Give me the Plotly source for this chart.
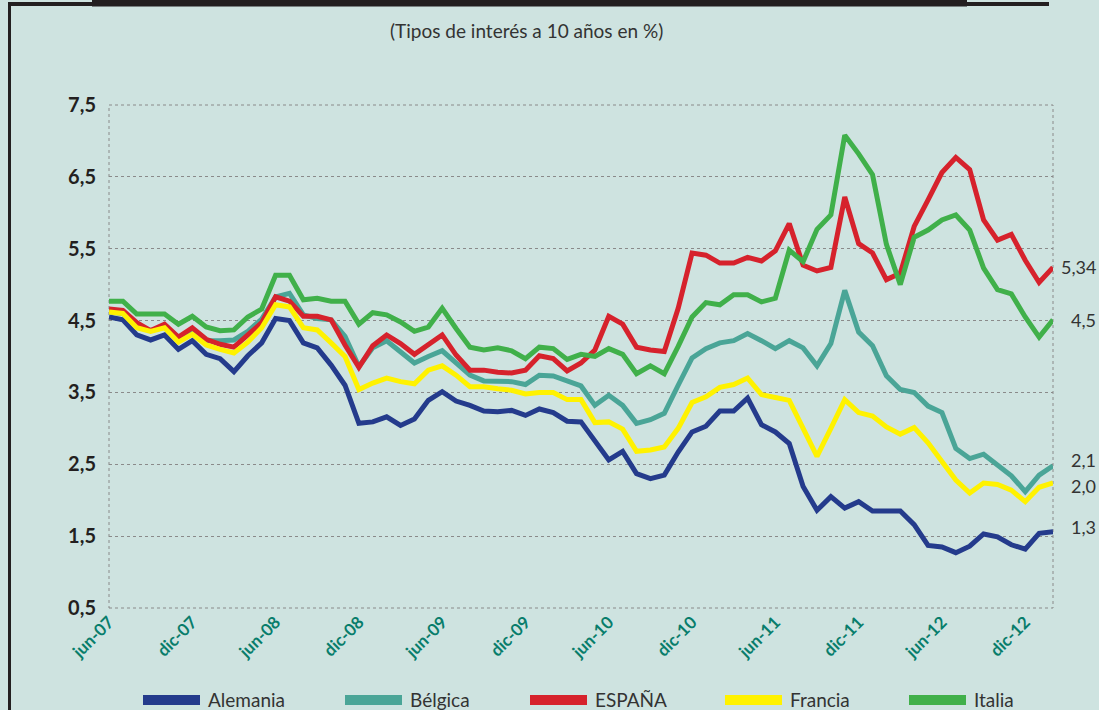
import plotly.graph_objects as go

# ---------------- data ----------------
mes = ["ene", "feb", "mar", "abr", "may", "jun", "jul", "ago", "sep", "oct", "nov", "dic"]
months = []
_y, _m = 2007, 5
for _ in range(69):
    months.append(f"{mes[_m]}-{str(_y)[2:]}")
    _m += 1
    if _m == 12:
        _m = 0
        _y += 1

alemania = [4.55, 4.51, 4.30, 4.23, 4.30, 4.10, 4.22, 4.03, 3.97, 3.79,
            4.01, 4.19, 4.53, 4.50, 4.19, 4.12, 3.88, 3.60, 3.07, 3.09,
            3.16, 3.04, 3.13, 3.39, 3.51, 3.38, 3.32, 3.24, 3.23, 3.25,
            3.18, 3.27, 3.22, 3.10, 3.09, 2.81, 2.56, 2.68, 2.37, 2.30,
            2.35, 2.67, 2.95, 3.03, 3.24, 3.24, 3.42, 3.05, 2.95, 2.79,
            2.19, 1.86, 2.05, 1.89, 1.98, 1.85, 1.85, 1.85, 1.66, 1.37,
            1.35, 1.27, 1.36, 1.53, 1.49, 1.38, 1.32, 1.54, 1.56]

belgica = [4.62, 4.60, 4.42, 4.36, 4.42, 4.25, 4.37, 4.22, 4.22, 4.23,
           4.35, 4.52, 4.83, 4.88, 4.58, 4.53, 4.51, 4.28, 3.86, 4.12,
           4.22, 4.06, 3.91, 4.00, 4.08, 3.91, 3.74, 3.66, 3.66, 3.65,
           3.61, 3.74, 3.73, 3.66, 3.59, 3.32, 3.46, 3.32, 3.07, 3.12,
           3.21, 3.60, 3.98, 4.11, 4.19, 4.22, 4.32, 4.22, 4.11, 4.22,
           4.12, 3.87, 4.18, 4.92, 4.34, 4.15, 3.73, 3.54, 3.50, 3.31,
           3.22, 2.72, 2.58, 2.64, 2.48, 2.34, 2.12, 2.35, 2.48]

espana = [4.66, 4.64, 4.47, 4.36, 4.45, 4.27, 4.40, 4.24, 4.17, 4.13,
          4.30, 4.47, 4.83, 4.77, 4.56, 4.56, 4.51, 4.16, 3.85, 4.15,
          4.30, 4.18, 4.03, 4.17, 4.30, 4.02, 3.81, 3.81, 3.78, 3.77,
          3.81, 4.01, 3.97, 3.80, 3.91, 4.09, 4.56, 4.45, 4.13, 4.09,
          4.07, 4.67, 5.44, 5.41, 5.30, 5.30, 5.38, 5.33, 5.47, 5.85,
          5.27, 5.19, 5.24, 6.22, 5.57, 5.44, 5.07, 5.16, 5.81, 6.18,
          6.56, 6.77, 6.60, 5.90, 5.62, 5.70, 5.34, 5.03, 5.24]

francia = [4.62, 4.60, 4.40, 4.35, 4.40, 4.20, 4.31, 4.16, 4.10, 4.05,
           4.20, 4.40, 4.72, 4.69, 4.40, 4.37, 4.19, 4.00, 3.54, 3.63,
           3.70, 3.65, 3.62, 3.81, 3.87, 3.74, 3.58, 3.58, 3.55, 3.53,
           3.48, 3.50, 3.50, 3.40, 3.40, 3.08, 3.09, 2.99, 2.68, 2.70,
           2.74, 3.00, 3.36, 3.44, 3.57, 3.61, 3.70, 3.47, 3.43, 3.39,
           3.00, 2.61, 3.00, 3.40, 3.22, 3.17, 3.02, 2.92, 3.01, 2.80,
           2.54, 2.28, 2.10, 2.24, 2.22, 2.14, 1.98, 2.18, 2.24]

italia = [4.77, 4.77, 4.59, 4.59, 4.59, 4.45, 4.56, 4.41, 4.36, 4.37,
          4.55, 4.66, 5.13, 5.13, 4.79, 4.81, 4.77, 4.77, 4.45, 4.61,
          4.58, 4.48, 4.35, 4.41, 4.67, 4.39, 4.13, 4.09, 4.12, 4.08,
          3.97, 4.13, 4.11, 3.96, 4.03, 4.00, 4.11, 4.03, 3.76, 3.87,
          3.76, 4.14, 4.55, 4.75, 4.72, 4.86, 4.86, 4.76, 4.81, 5.48,
          5.32, 5.77, 5.97, 7.08, 6.82, 6.53, 5.56, 5.00, 5.66, 5.76,
          5.90, 5.97, 5.76, 5.23, 4.93, 4.87, 4.55, 4.27, 4.51]

series_names = ["Alemania", "Bélgica", "ESPAÑA", "Francia", "Italia"]
series_values = [alemania, belgica, espana, francia, italia]
end_labels = ["1,3", "2,1", "5,34", "2,0", "4,5"]

y_ticks = [0.5, 1.5, 2.5, 3.5, 4.5, 5.5, 6.5, 7.5]
x_tick_labels = months[::6]
subtitle = "(Tipos de interés a 10 años en %)"

# ---------------- style ----------------
colors = ["#243B8C", "#4AA597", "#D6222C", "#FFF200", "#40B04A"]
end_label_yshift = [5, 6, 0, -3, 0]
BG = "#CEE3E0"
W, H = 1099, 710
L, R, T, B = 109, 1053, 105, 608
FONT = "Lato"


def px(x):
    return (x - L) / (R - L)


def py(y):
    return (B - y) / (B - T)


fig = go.Figure()
for name, vals, col in zip(series_names, series_values, colors):
    fig.add_trace(go.Scatter(
        x=months, y=vals, name=name, mode="lines",
        line=dict(color=col, width=5), showlegend=False,
        hoverinfo="x+y+name"))

shapes = []
# dotted frame around plot area
shapes.append(dict(type="rect", xref="paper", yref="paper", x0=0, x1=1, y0=0, y1=1,
                   line=dict(color="#8A8A8A", width=1, dash="dot"), layer="below"))
# outer black frame pieces
shapes.append(dict(type="rect", xref="paper", yref="paper",
                   x0=px(8), x1=px(11), y0=py(712), y1=py(2),
                   line=dict(width=0), fillcolor="#231F20"))
shapes.append(dict(type="rect", xref="paper", yref="paper",
                   x0=px(8), x1=px(1049), y0=py(6), y1=py(2),
                   line=dict(width=0), fillcolor="#231F20"))
shapes.append(dict(type="rect", xref="paper", yref="paper",
                   x0=px(92), x1=px(967), y0=py(6.5), y1=py(-1),
                   line=dict(width=0), fillcolor="#231F20"))

annotations = []
# subtitle
annotations.append(dict(text=subtitle, xref="paper", yref="paper",
                        x=px(526), y=py(31), xanchor="center", yanchor="middle",
                        showarrow=False, font=dict(family=FONT, size=19, color="#333333")))

# legend (manual)
legend_x = [143, 345, 530, 725, 909]
for name, col, lx in zip(series_names, colors, legend_x):
    shapes.append(dict(type="rect", xref="paper", yref="paper",
                       x0=px(lx), x1=px(lx + 57), y0=py(705), y1=py(695),
                       line=dict(width=0), fillcolor=col))
    annotations.append(dict(text=name, xref="paper", yref="paper",
                            x=px(lx + 63), y=py(699), xanchor="left", yanchor="middle",
                            showarrow=False,
                            font=dict(family=FONT, size=19, color="#333333")))

# end labels
for lab, vals, ys in zip(end_labels, series_values, end_label_yshift):
    annotations.append(dict(text=lab, xref="paper", yref="y",
                            x=1, y=vals[-1], xanchor="right", yanchor="middle",
                            xshift=45, yshift=ys, showarrow=False,
                            font=dict(family=FONT, size=18, color="#333333")))

fig.update_layout(
    width=W, height=H,
    margin=dict(l=L, r=W - R, t=T, b=H - B),
    paper_bgcolor=BG, plot_bgcolor=BG,
    separators=",.",
    shapes=shapes, annotations=annotations,
    showlegend=False,
    xaxis=dict(
        type="category", range=[0, len(months) - 1],
        tickmode="array", tickvals=x_tick_labels, ticktext=x_tick_labels,
        tickangle=-45, showgrid=False, zeroline=False, showline=False,
        ticks="", tickfont=dict(family=FONT, size=17, color="#087D6B", weight=700),
    ),
    yaxis=dict(
        range=[0.5, 7.5], tickmode="array", tickvals=y_ticks, tickformat=".1f",
        showgrid=True, gridcolor="#8A8A8A", gridwidth=1, griddash="dot",
        zeroline=False, showline=False, ticks="", ticklabelstandoff=12,
        tickfont=dict(family=FONT, size=20, color="#231F20", weight=700),
    ),
)

fig.write_html(
    "out.html",
    config={"displayModeBar": False},
    post_script="document.body.style.margin='0px';document.body.style.overflow='hidden';",
)
